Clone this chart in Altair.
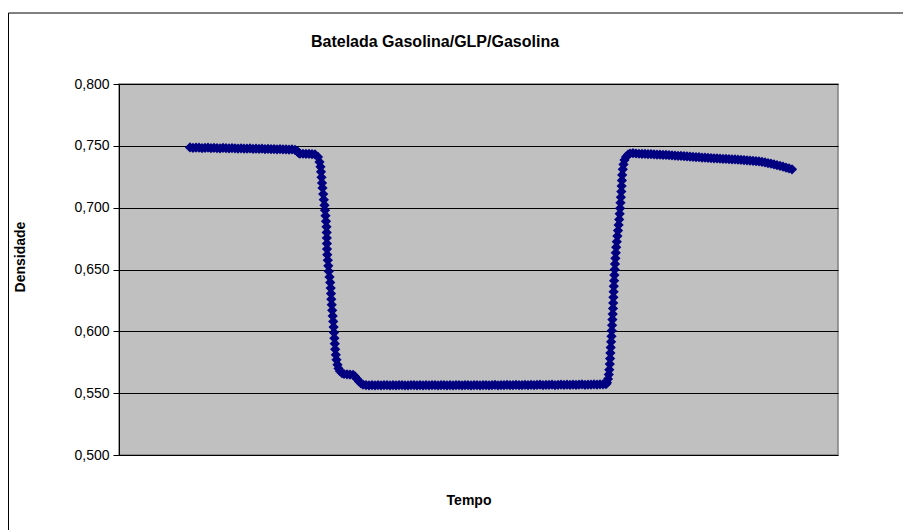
import altair as alt
import pandas as pd

# Density readings of a gasoline / LPG / gasoline batch passing the meter
# (time in arbitrary sample units, density in g/cm3)

# first gasoline front
gasolina1_tempo = list(range(71, 177, 3))
gasolina1_dens = [
    0.7487, 0.7484, 0.7486, 0.7485, 0.7482, 0.7484, 0.7485, 0.7481, 0.7483, 0.7482,
    0.7480, 0.7483, 0.7481, 0.7479, 0.7481, 0.7480, 0.7478, 0.7480, 0.7478, 0.7477,
    0.7479, 0.7476, 0.7477, 0.7475, 0.7477, 0.7474, 0.7476, 0.7473, 0.7474, 0.7472,
    0.7474, 0.7471, 0.7472, 0.7470, 0.7471, 0.7468,
]

# small step before the interface
degrau_tempo = [178, 179, 180, 181, 184, 187, 190, 193, 196]
degrau_dens = [0.7458, 0.7449, 0.7441, 0.7437, 0.7436, 0.7434, 0.7435, 0.7433, 0.7430]

# gasoline -> LPG interface
interface1_tempo = [
    199, 200.5, 201.5, 202, 202.5, 203, 203.5, 204.2, 204.8, 205.5,
    206, 206.5, 207, 207.5, 207.7, 207.8, 207.9, 208, 208.3, 208.8,
    209.3, 209.8, 210.5, 211.2, 211.7, 212, 212.3, 212.7, 213.2, 213.7,
    214.2, 214.6, 215, 215.4, 215.8, 216.2, 216.8, 217.5, 218.5, 219.5,
    221, 223, 225, 228, 231, 234, 236, 238, 240, 242, 244,
]
interface1_dens = [
    0.7410, 0.7370, 0.7330, 0.7290, 0.7245, 0.7200, 0.7160, 0.7110, 0.7065, 0.7020,
    0.6980, 0.6935, 0.6890, 0.6845, 0.6800, 0.6755, 0.6710, 0.6665, 0.6620, 0.6575,
    0.6530, 0.6485, 0.6440, 0.6395, 0.6350, 0.6305, 0.6260, 0.6215, 0.6170, 0.6125,
    0.6080, 0.6035, 0.5990, 0.5945, 0.5900, 0.5855, 0.5810, 0.5770, 0.5730, 0.5700,
    0.5678, 0.5663, 0.5655, 0.5652, 0.5650, 0.5648, 0.5635, 0.5615, 0.5595, 0.5580,
    0.5570,
]

# LPG plateau
glp_tempo = list(range(247, 488, 3))
glp_dens = [
    0.5566, 0.5564, 0.5565, 0.5563, 0.5566, 0.5564, 0.5565, 0.5566, 0.5563, 0.5565,
    0.5564, 0.5566, 0.5565, 0.5563, 0.5564, 0.5566, 0.5565, 0.5564, 0.5566, 0.5563,
    0.5565, 0.5564, 0.5566, 0.5565, 0.5563, 0.5565, 0.5566, 0.5564, 0.5565, 0.5563,
    0.5566, 0.5565, 0.5564, 0.5566, 0.5565, 0.5563, 0.5565, 0.5566, 0.5564, 0.5565,
    0.5566, 0.5564, 0.5565, 0.5567, 0.5564, 0.5566, 0.5565, 0.5567, 0.5565, 0.5566,
    0.5568, 0.5565, 0.5566, 0.5567, 0.5565, 0.5568, 0.5566, 0.5567, 0.5569, 0.5566,
    0.5568, 0.5567, 0.5569, 0.5566, 0.5568, 0.5570, 0.5567, 0.5569, 0.5568, 0.5570,
    0.5568, 0.5569, 0.5571, 0.5568, 0.5570, 0.5569, 0.5571, 0.5570, 0.5572, 0.5571,
    0.5573,
]

# LPG -> gasoline interface
interface2_tempo = [
    488, 489, 489.8, 490.3, 490.8, 491.1, 491.4, 491.7, 492.1, 492.5,
    492.8, 493.1, 493.4, 493.7, 494, 494.2, 494.4, 494.6, 494.8, 495.1,
    495.4, 495.7, 496, 496.4, 496.8, 497.2, 497.8, 498.4, 499, 499.6,
    500.2, 500.7, 501.1, 501.5, 501.9, 502.3, 502.6, 502.9, 503.2, 503.8,
    504.5, 505.5, 507, 509, 511,
]
interface2_dens = [
    0.5585, 0.5615, 0.5650, 0.5690, 0.5735, 0.5780, 0.5825, 0.5870, 0.5915, 0.5960,
    0.6005, 0.6050, 0.6095, 0.6140, 0.6185, 0.6230, 0.6275, 0.6320, 0.6365, 0.6410,
    0.6455, 0.6500, 0.6545, 0.6590, 0.6635, 0.6680, 0.6725, 0.6770, 0.6815, 0.6860,
    0.6905, 0.6950, 0.6995, 0.7040, 0.7085, 0.7130, 0.7175, 0.7220, 0.7265, 0.7310,
    0.7350, 0.7385, 0.7410, 0.7428, 0.7438,
]

# second gasoline front
gasolina2_tempo = list(range(514, 674, 3))
gasolina2_dens = [
    0.7441, 0.7438, 0.7436, 0.7435, 0.7434, 0.7432, 0.7433, 0.7430, 0.7429, 0.7428,
    0.7426, 0.7427, 0.7424, 0.7422, 0.7421, 0.7419, 0.7418, 0.7416, 0.7414, 0.7413,
    0.7410, 0.7409, 0.7408, 0.7405, 0.7404, 0.7402, 0.7401, 0.7399, 0.7398, 0.7396,
    0.7395, 0.7394, 0.7392, 0.7391, 0.7390, 0.7388, 0.7387, 0.7385, 0.7383, 0.7381,
    0.7379, 0.7377, 0.7374, 0.7370, 0.7366, 0.7361, 0.7356, 0.7350, 0.7344, 0.7338,
    0.7331, 0.7324, 0.7317, 0.7310,
]

y_ticks = [0.50, 0.55, 0.60, 0.65, 0.70, 0.75, 0.80]

tempo = (gasolina1_tempo + degrau_tempo + interface1_tempo + glp_tempo
         + interface2_tempo + gasolina2_tempo)
densidade = (gasolina1_dens + degrau_dens + interface1_dens + glp_dens
             + interface2_dens + gasolina2_dens)
df = pd.DataFrame({"Tempo": tempo, "Densidade": densidade})

FONT = "Liberation Sans"
W, H = 719, 371

points = alt.Chart(df).mark_point(
    shape="diamond", filled=True, size=105, color="#000080", opacity=1
).encode(
    x=alt.X("Tempo:Q", scale=alt.Scale(domain=[0, 719], nice=False, zero=False), axis=None),
    y=alt.Y(
        "Densidade:Q",
        scale=alt.Scale(domain=[0.5, 0.8], nice=False, zero=False),
        axis=alt.Axis(
            values=y_ticks,
            title=None,
            labelExpr="replace(format(datum.value, '.3f'), '.', ',')",
            labelFont=FONT,
            labelFontSize=14,
            labelColor="#000000",
            labelPadding=4,
            tickSize=6,
            tickColor="#000000",
            domainColor="#000000",
            gridColor="#000000",
            gridWidth=1,
            grid=True,
        ),
    ),
)

one = pd.DataFrame({"k": [0]})

frame = alt.Chart(one).mark_rect(
    fill=None, stroke="#000000", strokeWidth=1
).encode(
    x=alt.value(-110.5), x2=alt.value(W + 300), y=alt.value(-71), y2=alt.value(H + 300)
)

title = alt.Chart(one).mark_text(
    text="Batelada Gasolina/GLP/Gasolina", font=FONT, fontSize=16, fontWeight="bold",
    align="center", baseline="alphabetic", color="#000000"
).encode(x=alt.value(316), y=alt.value(-37))

xlabel = alt.Chart(one).mark_text(
    text="Tempo", font=FONT, fontSize=14, fontWeight="bold",
    align="center", baseline="alphabetic", color="#000000"
).encode(x=alt.value(350), y=alt.value(421))

ylabel = alt.Chart(one).mark_text(
    text="Densidade", font=FONT, fontSize=14, fontWeight="bold", angle=270,
    align="center", baseline="middle", color="#000000"
).encode(x=alt.value(-98), y=alt.value(173))

chart = alt.layer(frame, points, title, xlabel, ylabel).properties(
    width=W,
    height=H,
    autosize=alt.AutoSizeParams(type="none"),
    padding={"left": 119, "top": 84, "right": 65, "bottom": 75},
    background="#ffffff",
).configure_view(
    fill="#C0C0C0", stroke="#808080", strokeWidth=1.5
)

chart.save("out.html", embed_options={"renderer": "svg", "actions": False})
